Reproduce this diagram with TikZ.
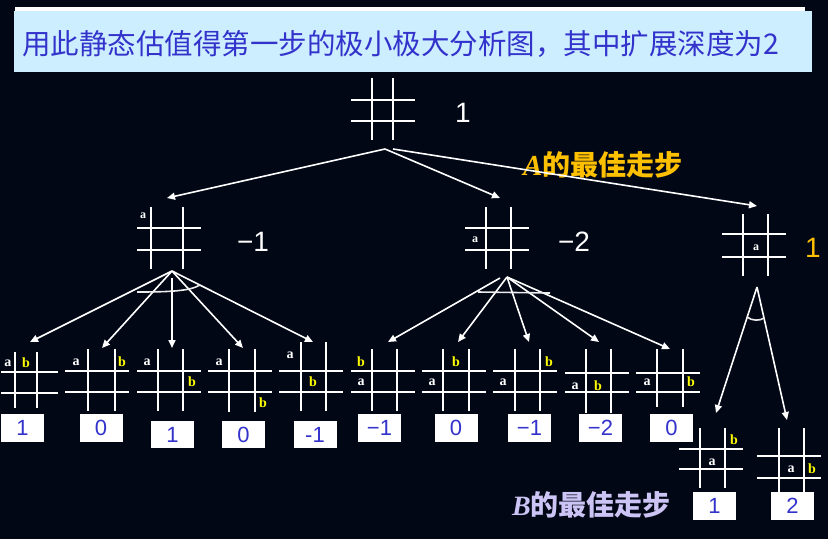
\documentclass[tikz,border=0pt]{standalone}
\usepackage{fontspec}
\setmainfont{Liberation Sans}
\newfontfamily\cjk{Noto Sans CJK SC}
\newfontfamily\sbf{Liberation Serif}
\usetikzlibrary{arrows.meta}
\definecolor{bgc}{HTML}{020716}
\definecolor{titlebg}{HTML}{CCEEFF}
\definecolor{titleblue}{HTML}{3333CC}
\definecolor{goldc}{HTML}{FFC000}
\definecolor{lavc}{HTML}{CCC4F4}
\definecolor{markb}{HTML}{FFFF00}
\definecolor{boxblue}{HTML}{3333CC}
\newcommand\board[9]{%
  \draw[gridl] (#4,#6) -- (#4,#7);
  \draw[gridl] (#5,#6) -- (#5,#7);
  \draw[gridl] (#2,#8) -- (#3,#8);
  \draw[gridl] (#2,#9) -- (#3,#9);
  \coordinate (#1) at ({(#2+#3)/2},{(#6+#7)/2});
}
\begin{document}
\begin{tikzpicture}[x=1pt,y=-1pt,
  gridl/.style={white,line width=2.2pt},
  arr/.style={white,line width=1.6pt,-{Triangle[length=8pt,width=7pt]}},
  minmark/.style={white!85!gray,line width=1.6pt},
  ma/.style={text=white,font=\sbf\bfseries\fontsize{14}{14}\selectfont,inner sep=0pt},
  mb/.style={text=markb,font=\sbf\bfseries\fontsize{14}{14}\selectfont,inner sep=0pt},
  vbox/.style={fill=white,minimum width=43pt,minimum height=28pt,inner sep=0pt,
     text=boxblue,font=\fontsize{22}{22}\selectfont},
  vlab/.style={text=white,inner sep=0pt,font=\fontsize{28}{28}\selectfont},
  bestA/.style={text=goldc,anchor=west,inner sep=0pt},
  bestB/.style={text=lavc,anchor=west,inner sep=0pt}]
\fill[bgc] (0,0) rectangle (828,539);
\useasboundingbox (0,0) rectangle (828,539);
% title
\fill[white] (15,7) rectangle (805,72);
\fill[titlebg] (14,11) rectangle (812,72);
\node[anchor=west,inner sep=0pt,text=titleblue,font=\cjk\fontsize{28.5}{30}\selectfont] (title) at (22,44)
  {用此静态估值得第一步的极小极大分析图，其中扩展深度为2};
% boards
\board{root}{351}{415}{372}{393}{78}{140}{100}{121}
\board{A1}{137}{201}{151}{183}{207}{269}{228}{250}
\board{A2}{465}{529}{486}{511}{207}{269}{228}{250}
\board{A3}{722}{786}{743}{768}{214}{276}{234}{257}
\board{L1}{1}{58}{15}{37}{352}{408}{372}{393}
\board{L2}{65}{129}{88}{115}{349}{411}{371}{392}
\board{L3}{137}{201}{158}{183}{349}{411}{371}{392}
\board{L4}{208}{272}{229}{255}{349}{412}{371}{392}
\board{L5}{279}{343}{301}{326}{342}{411}{371}{392}
\board{L6}{351}{415}{372}{397}{349}{411}{371}{392}
\board{L7}{422}{486}{443}{469}{349}{411}{371}{392}
\board{L8}{493}{557}{515}{540}{349}{411}{371}{392}
\board{L9}{565}{629}{586}{611}{349}{413}{373}{392}
\board{L10}{636}{700}{657}{683}{349}{407}{373}{392}
\board{L11}{679}{743}{700}{725}{428}{488}{449}{469}
\board{L12}{757}{821}{779}{804}{428}{492}{456}{478}
% marks
\node[ma,font=\sbf\bfseries\fontsize{12}{12}\selectfont] (A1a) at (143,216) {a};
\node[ma,font=\sbf\bfseries\fontsize{12}{12}\selectfont] (A2a) at (475,240) {a};
\node[ma,font=\sbf\bfseries\fontsize{12}{12}\selectfont] (A3a) at (756,248) {a};
\node[ma] (L1a) at (8,363) {a};   \node[mb] (L1b) at (26,363) {b};
\node[ma] (L2a) at (76,362) {a};  \node[mb] (L2b) at (122,362) {b};
\node[ma] (L3a) at (147,362) {a}; \node[mb] (L3b) at (192,382) {b};
\node[ma] (L4a) at (219,362) {a}; \node[mb] (L4b) at (263,403) {b};
\node[ma] (L5a) at (290,355) {a}; \node[mb] (L5b) at (313,382) {b};
\node[mb] (L6b) at (361,362) {b}; \node[ma] (L6a) at (361,382) {a};
\node[mb] (L7b) at (456,362) {b}; \node[ma] (L7a) at (432,382) {a};
\node[ma] (L8a) at (503,382) {a}; \node[mb] (L8b) at (549,362) {b};
\node[ma] (L9a) at (575,386) {a}; \node[mb] (L9b) at (598,386) {b};
\node[ma] (L10a) at (647,382) {a}; \node[mb] (L10b) at (691,382) {b};
\node[mb] (L11b) at (734,440) {b}; \node[ma] (L11a) at (712,462) {a};
\node[ma] (L12a) at (791,469) {a}; \node[mb] (L12b) at (812,469) {b};
% values
\node[vlab] (rootv) at (463,113) {1};
\node[vlab] (A1v) at (253,242) {−1};
\node[vlab] (A2v) at (574,242) {−2};
\node[vlab,text=goldc] (A3v) at (813,248) {1};
\node[vbox] (v1) at (22.5,428) {1};
\node[vbox] (v2) at (101,428) {0};
\node[vbox,minimum height=27pt] (v3) at (172.5,434.5) {1};
\node[vbox,minimum height=27pt] (v4) at (243.5,434.5) {0};
\node[vbox,minimum height=27pt] (v5) at (315,434.5) {-1};
\node[vbox] (v6) at (379.5,428) {−1};
\node[vbox] (v7) at (456,428) {0};
\node[vbox] (v8) at (529.5,428) {−1};
\node[vbox] (v9) at (600.5,428) {−2};
\node[vbox] (v10) at (671.5,428) {0};
\node[vbox] (v11) at (714.5,506) {1};
\node[vbox] (v12) at (792.5,506) {2};
% best-move captions
\node[bestA] (bestA) at (523,165) {\sbf\bfseries\itshape\fontsize{29}{30}\selectfont A\cjk\bfseries\upshape\fontsize{28}{30}\selectfont 的最佳走步};
\node[bestB] (bestB) at (512,505) {\sbf\bfseries\itshape\fontsize{28}{30}\selectfont B\cjk\bfseries\upshape\fontsize{28}{30}\selectfont 的最佳走步};
% connector coordinates
\coordinate (rs) at (385,149);
\coordinate (rs2) at (393,149);
\coordinate (A1n) at (167,198);
\coordinate (A2n) at (500,198);
\coordinate (A3n) at (757,206);
\coordinate (g1) at (172,271);
\coordinate (g1m) at (172,278);
\coordinate (g2) at (507,277);
\coordinate (g2l) at (500,278);
\coordinate (g3) at (757,287);
\coordinate (t1) at (30,342);
\coordinate (t2) at (102,348);
\coordinate (t3) at (172,348);
\coordinate (t4) at (243,348);
\coordinate (t5) at (313,342);
\coordinate (t6) at (388,342);
\coordinate (t7) at (458,342);
\coordinate (t8) at (529,342);
\coordinate (t9) at (599,342);
\coordinate (t10) at (670,349);
\coordinate (t11) at (716,413);
\coordinate (t12) at (787,420);
% connectors
\draw[arr] (rs) -- (A1n);
\draw[arr] (rs) -- (A2n);
\draw[arr] (rs2) -- (A3n);
\draw[arr] (g1) -- (t1);
\draw[arr] (g1) -- (t2);
\draw[arr] (g1m) -- (t3);
\draw[arr] (g1) -- (t4);
\draw[arr] (g1) -- (t5);
\draw[arr] (g2l) -- (t6);
\draw[arr] (g2) -- (t7);
\draw[arr] (g2) -- (t8);
\draw[arr] (g2) -- (t9);
\draw[arr] (g2) -- (t10);
\draw[arr] (g3) -- (t11);
\draw[arr] (g3) -- (t12);
% min marks
\draw[minmark] (137,292) .. controls (170,292) and (190,291) .. (200,285);
\draw[minmark] (478,292) -- (550,293);
\draw[minmark] (747,317) .. controls (752,321) and (760,321) .. (764,318);
\end{tikzpicture}
\end{document}
